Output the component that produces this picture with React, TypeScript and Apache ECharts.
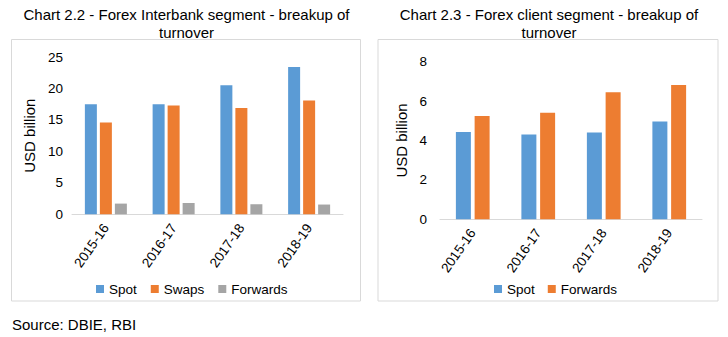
import React, { useEffect, useRef } from "react";
import * as echarts from "echarts";

const categories = ["2015-16", "2016-17", "2017-18", "2018-19"];

// Chart 2.2 - Interbank
const interbankSpot = [17.5, 17.5, 20.5, 23.4];
const interbankSwaps = [14.6, 17.3, 16.9, 18.1];
const interbankForwards = [1.7, 1.8, 1.6, 1.55];

// Chart 2.3 - Client
const clientSpot = [4.43, 4.31, 4.4, 4.97];
const clientForwards = [5.24, 5.41, 6.45, 6.82];

const leftTitle = ["Chart 2.2 - Forex Interbank segment - breakup of", "turnover"];
const rightTitle = ["Chart 2.3 - Forex client segment - breakup of", "turnover"];
const yName = "USD billion";
const sourceText = "Source: DBIE, RBI";

const FONT = "'Liberation Sans', Arial, sans-serif";
const BLUE = "#5B9BD5";
const ORANGE = "#ED7D31";
const GREY = "#A5A5A5";
const AXIS = "#D9D9D9";

function titleTexts(lines: string[], cx: number) {
  return lines.map((t, i) => ({
    type: "text",
    x: cx,
    y: 14 + i * 18,
    style: {
      text: t,
      x: 0,
      y: 0,
      align: "center",
      verticalAlign: "middle",
      fontSize: 15,
      fontFamily: FONT,
      fill: "#000",
    },
  }));
}

function baseAxes(max: number, interval: number, labelMargin: number, nameGap: number) {
  return {
    xAxis: {
      type: "category",
      data: categories,
      axisLine: { show: true, lineStyle: { color: AXIS, width: 1 } },
      axisTick: { show: false },
      axisLabel: {
        rotate: 55,
        margin: 11,
        fontSize: 13.5,
        fontFamily: FONT,
        color: "#000",
        interval: 0,
      },
    },
    yAxis: {
      type: "value",
      min: 0,
      max,
      interval,
      name: yName,
      nameLocation: "middle",
      nameGap,
      nameTextStyle: { fontSize: 15, fontFamily: FONT, color: "#000" },
      axisLine: { show: false },
      axisTick: { show: false },
      splitLine: { show: false },
      axisLabel: { margin: labelMargin, fontSize: 13.5, fontFamily: FONT, color: "#000" },
    },
  };
}

function leftOption() {
  const axes = baseAxes(25, 5, 9, 27);
  return {
    animation: false,
    textStyle: { fontFamily: FONT },
    grid: { left: 72, right: 21, top: 57, bottom: 122.7, containLabel: false },
    ...axes,
    legend: {
      left: 91,
      top: 277,
      itemWidth: 8,
      itemHeight: 8,
      itemGap: 14,
      icon: "rect",
      textStyle: { fontSize: 13.5, fontFamily: FONT, color: "#000" },
      data: ["Spot", "Swaps", "Forwards"],
    },
    series: [
      { name: "Spot", type: "bar", data: interbankSpot, itemStyle: { color: BLUE }, barGap: "25%", barCategoryGap: "38%" },
      { name: "Swaps", type: "bar", data: interbankSwaps, itemStyle: { color: ORANGE }, barGap: "25%", barCategoryGap: "38%" },
      { name: "Forwards", type: "bar", data: interbankForwards, itemStyle: { color: GREY }, barGap: "25%", barCategoryGap: "38%" },
    ],
    graphic: [
      {
        type: "rect",
        shape: { x: 11.5, y: 39.5, width: 349, height: 261.5 },
        style: { fill: "none", stroke: AXIS, lineWidth: 1 },
        silent: true,
      },
      ...titleTexts(leftTitle, 186.5),
      {
        type: "text",
        x: 12,
        y: 324,
        style: {
          text: sourceText,
          x: 0,
          y: 0,
          verticalAlign: "middle",
          fontSize: 15,
          fontFamily: FONT,
          fill: "#000",
        },
      },
    ],
  };
}

function rightOption() {
  const axes = baseAxes(8, 2, 13, 22.5);
  return {
    animation: false,
    textStyle: { fontFamily: FONT },
    grid: { left: 76, right: 26, top: 61.7, bottom: 117.7, containLabel: false },
    ...axes,
    legend: {
      left: 125,
      top: 277,
      itemWidth: 8,
      itemHeight: 8,
      itemGap: 13,
      icon: "rect",
      textStyle: { fontSize: 13.5, fontFamily: FONT, color: "#000" },
      data: ["Spot", "Forwards"],
    },
    series: [
      { name: "Spot", type: "bar", data: clientSpot, itemStyle: { color: BLUE }, barGap: "25%", barCategoryGap: "48.5%" },
      { name: "Forwards", type: "bar", data: clientForwards, itemStyle: { color: ORANGE }, barGap: "25%", barCategoryGap: "48.5%" },
    ],
    graphic: [
      {
        type: "rect",
        shape: { x: 14, y: 39.5, width: 340, height: 261.5 },
        style: { fill: "none", stroke: AXIS, lineWidth: 1 },
        silent: true,
      },
      ...titleTexts(rightTitle, 185),
    ],
  };
}

function ChartBox({ option, left }: { option: any; left: number }) {
  const ref = useRef<HTMLDivElement>(null);
  useEffect(() => {
    if (!ref.current) return;
    const chart = echarts.init(ref.current, undefined, { renderer: "svg" });
    chart.setOption(option);
    return () => chart.dispose();
  }, [option]);
  return (
    <div
      ref={ref}
      style={{ position: "absolute", left, top: 0, width: 364, height: 337, background: "#fff" }}
    />
  );
}

const optL = leftOption();
const optR = rightOption();

export default function App() {
  return (
    <div style={{ position: "absolute", left: 0, top: 0, width: 728, height: 337, background: "#fff" }}>
      <ChartBox option={optL} left={0} />
      <ChartBox option={optR} left={364} />
    </div>
  );
}
